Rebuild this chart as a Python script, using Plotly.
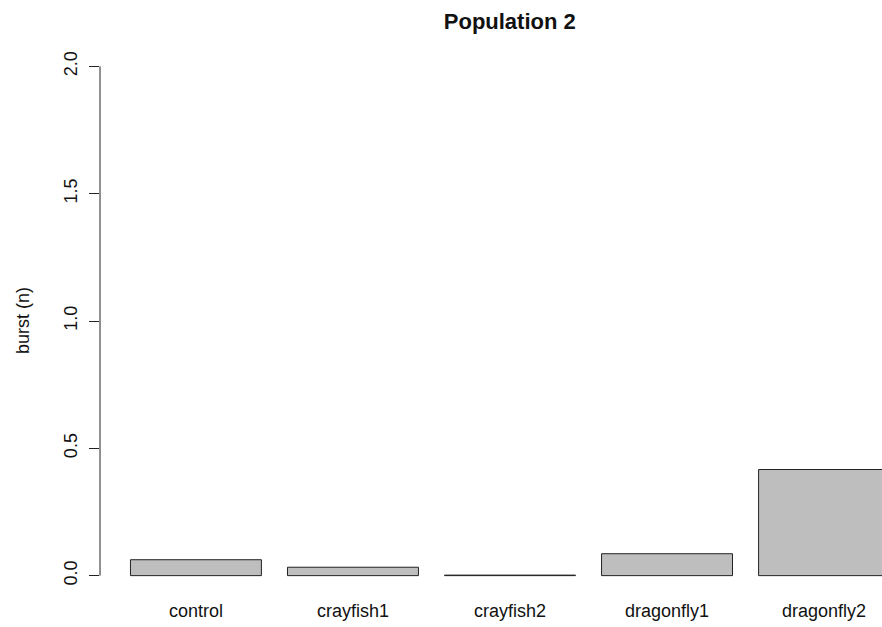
import plotly.graph_objects as go

categories = ["control", "crayfish1", "crayfish2", "dragonfly1", "dragonfly2"]
burst_values = [0.0625, 0.033, 0.002, 0.086, 0.4167]
y_tick_vals = [0, 0.5, 1, 1.5, 2]
y_tick_text = ["0.0", "0.5", "1.0", "1.5", "2.0"]

FONT = "Arial, Liberation Sans, Helvetica, sans-serif"

W, H = 882, 627

fig = go.Figure()
fig.add_trace(go.Bar(
    x=categories,
    y=burst_values,
    marker=dict(color="#BEBEBE", line=dict(color="#222222", width=1)),
    hoverinfo="x+y",
))

fig.update_layout(
    width=W, height=H,
    margin=dict(l=100, r=0, t=46, b=31),
    paper_bgcolor="white", plot_bgcolor="white",
    bargap=0.166,
    showlegend=False,
    font=dict(family=FONT, size=18, color="#111111"),
    title=dict(text="<b>Population 2</b>", x=0.524, xref="paper", xanchor="center",
               y=1 - 21 / H, yref="container", yanchor="middle",
               font=dict(family=FONT, size=22, color="#111111")),
    xaxis=dict(
        range=[-0.611, 4.369], showgrid=False, zeroline=False, showline=False,
        ticks="", automargin=False, tickfont=dict(size=18), ticklabelstandoff=2,
    ),
    yaxis=dict(
        range=[-0.08, 2.08], showgrid=False, zeroline=False, showline=False,
        tickmode="array", tickvals=y_tick_vals, ticktext=y_tick_text,
        ticks="outside", ticklen=10, tickcolor="#222222", tickwidth=1,
        tickangle=-90, ticklabelstandoff=5, automargin=False,
        tickfont=dict(size=18),
    ),
    shapes=[dict(type="line", xref="paper", yref="y", x0=0, x1=0,
                 y0=y_tick_vals[0], y1=y_tick_vals[-1],
                 line=dict(color="#222222", width=1))],
    annotations=[dict(text="burst (n)", textangle=-90, xref="paper", yref="y",
                      x=(23 - 100) / 782, y=1.0, showarrow=False,
                      xanchor="center", yanchor="middle",
                      font=dict(family=FONT, size=18, color="#111111"))],
)

fig.write_html(
    "out.html",
    config={"displayModeBar": False},
    post_script="document.body.style.margin='0';document.body.style.overflow='hidden';",
)
